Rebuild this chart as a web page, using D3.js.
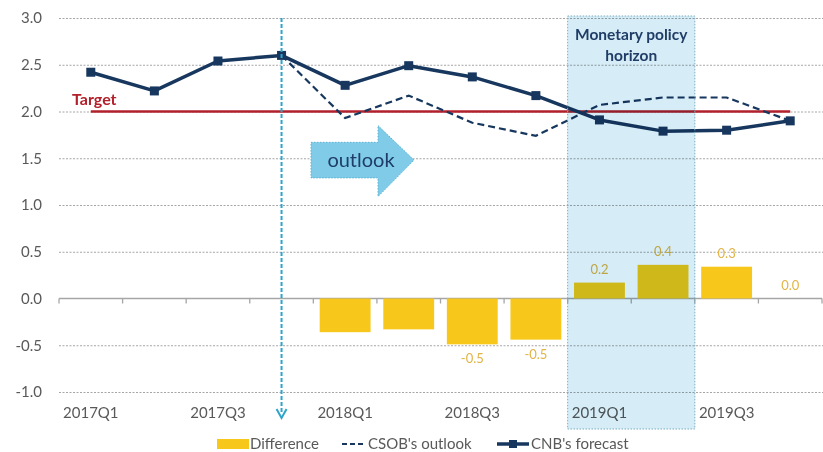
<!DOCTYPE html>
<html>
<head>
<meta charset="utf-8">
<script src="https://cdn.jsdelivr.net/npm/d3@7"></script>
<style>
  html, body { margin: 0; padding: 0; background: #fff; }
  svg { display: block; font-family: Lato, "Open Sans", sans-serif; }
</style>
</head>
<body>
<svg id="chart" width="823" height="452"></svg>
<script>
// ---- data ----
const categories = ["2017Q1","2017Q2","2017Q3","2017Q4","2018Q1","2018Q2","2018Q3","2018Q4","2019Q1","2019Q2","2019Q3","2019Q4"];
const xTickLabels = ["2017Q1","2017Q3","2018Q1","2018Q3","2019Q1","2019Q3"];
const cnbForecast = [2.42, 2.22, 2.54, 2.60, 2.28, 2.49, 2.37, 2.17, 1.91, 1.79, 1.80, 1.90];
const csobOutlook = [null, null, null, 2.60, 1.93, 2.17, 1.88, 1.74, 2.07, 2.15, 2.15, 1.90];
const difference  = [null, null, null, null, -0.36, -0.33, -0.49, -0.44, 0.17, 0.36, 0.34, 0.0];
const diffLabels  = ["", "", "", "", "", "", "-0.5", "-0.5", "0.2", "0.4", "0.3", "0.0"];
const yTicks = [-1.0, -0.5, 0.0, 0.5, 1.0, 1.5, 2.0, 2.5, 3.0];
const targetValue = 2.0;
const outlookStart = "2017Q4";
const horizon = ["2019Q1", "2019Q2"];

// ---- layout ----
const svg = d3.select("#chart");
const pLeft = 59, pRight = 822, pTop = 18, pBottom = 392;
const x = d3.scaleBand().domain(categories).range([pLeft, pRight]).padding(0);
const y = d3.scaleLinear().domain([-1, 3]).range([pBottom, pTop]);
const cx = c => x(c) + x.bandwidth() / 2;

const navy = "#17375E";
const yellow = "#F7C81B";
const fmt = d => d3.format(".1f")(d).replace("\u2212", "-");

// gridlines + y labels
const yAxis = d3.axisLeft(y).tickValues(yTicks).tickFormat(fmt).tickSize(-(823 - pLeft)).tickPadding(17);
const gy = svg.append("g").attr("transform", `translate(${pLeft},0)`).call(yAxis);
gy.select(".domain").remove();
gy.selectAll(".tick line").attr("stroke", "#A6A6A6").attr("stroke-width", 1)
  .attr("stroke-dasharray", d => d === 0 ? null : "2,1.5")
  .attr("opacity", d => d === 0 ? 0 : 1);
gy.selectAll(".tick text").attr("fill", "#595959").style("font-size", "15px").style("font-family", "Lato, sans-serif");

// zero axis with boundary ticks
svg.append("line").attr("x1", pLeft).attr("x2", pRight).attr("y1", y(0)).attr("y2", y(0))
  .attr("stroke", "#A6A6A6").attr("stroke-width", 1.3);
svg.append("g").selectAll("line").data(d3.range(categories.length + 1)).join("line")
  .attr("x1", i => pLeft + i * x.step()).attr("x2", i => pLeft + i * x.step())
  .attr("y1", y(0)).attr("y2", y(0) + 5).attr("stroke", "#A6A6A6").attr("stroke-width", 1.3);

// x labels
const xAxis = d3.axisBottom(x).tickValues(xTickLabels).tickSize(0);
const gx = svg.append("g").attr("transform", `translate(0,${pBottom + 12})`).call(xAxis);
gx.select(".domain").remove();
gx.selectAll(".tick text").attr("fill", "#595959").style("font-size", "15px").style("font-family", "Lato, sans-serif");

// bars
const barW = x.bandwidth() * 0.8;
const barData = categories.map((c, i) => ({ c, v: difference[i], label: diffLabels[i] })).filter(d => d.v !== null);
svg.append("g").selectAll("rect").data(barData).join("rect")
  .attr("x", d => cx(d.c) - barW / 2)
  .attr("width", barW)
  .attr("y", d => y(Math.max(0, d.v)))
  .attr("height", d => Math.abs(y(d.v) - y(0)))
  .attr("fill", yellow);
svg.append("g").selectAll("text").data(barData.filter(d => d.label)).join("text")
  .attr("x", d => cx(d.c))
  .attr("y", d => d.v < 0 ? y(d.v) + 19 : y(d.v) - 9)
  .attr("text-anchor", "middle")
  .attr("fill", "#E2B446").style("font-size", "13px")
  .text(d => d.label);

// target line
svg.append("line").attr("x1", cx(categories[0])).attr("x2", cx(categories[categories.length - 1]))
  .attr("y1", y(targetValue)).attr("y2", y(targetValue))
  .attr("stroke", "#B2202B").attr("stroke-width", 2.5);
svg.append("text").attr("x", 72).attr("y", y(targetValue) - 7)
  .attr("fill", "#B2202B").style("font-size", "16px").style("font-weight", "bold").text("Target");

// CSOB outlook dashed
const line = d3.line().defined(d => d.v !== null).x(d => cx(d.c)).y(d => y(d.v));
svg.append("path").datum(categories.map((c, i) => ({ c, v: csobOutlook[i] })))
  .attr("d", line).attr("fill", "none").attr("stroke", navy).attr("stroke-width", 2.2)
  .attr("stroke-dasharray", "7,4");

// CNB forecast solid
const cnbData = categories.map((c, i) => ({ c, v: cnbForecast[i] }));
svg.append("path").datum(cnbData).attr("d", line).attr("fill", "none")
  .attr("stroke", navy).attr("stroke-width", 3.5).attr("stroke-linejoin", "round");
svg.append("g").selectAll("rect").data(cnbData).join("rect")
  .attr("x", d => cx(d.c) - 4.5).attr("y", d => y(d.v) - 4.5)
  .attr("width", 9).attr("height", 9).attr("fill", navy);

// monetary policy horizon box (multiply overlay)
const hx0 = x(horizon[0]), hx1 = x(horizon[1]) + x.bandwidth();
svg.append("rect").attr("x", hx0).attr("y", pTop - 2).attr("width", hx1 - hx0).attr("height", 429 - (pTop - 2))
  .attr("fill", "#D6ECF6").style("mix-blend-mode", "multiply");
svg.append("rect").attr("x", hx0).attr("y", pTop - 2).attr("width", hx1 - hx0).attr("height", 429 - (pTop - 2))
  .attr("fill", "none").attr("stroke", "#7AAFC2").attr("stroke-width", 1).attr("stroke-dasharray", "1.5,1.5");
const hcx = (hx0 + hx1) / 2;
svg.append("text").attr("x", hcx).attr("y", 40).attr("text-anchor", "middle")
  .attr("fill", "#1F3D66").style("font-size", "15.5px").style("font-weight", "bold").text("Monetary policy");
svg.append("text").attr("x", hcx).attr("y", 61).attr("text-anchor", "middle")
  .attr("fill", "#1F3D66").style("font-size", "15.5px").style("font-weight", "bold").text("horizon");

// vertical dashed line marking forecast start
const vx = cx(outlookStart);
svg.append("line").attr("x1", vx).attr("x2", vx).attr("y1", pTop).attr("y2", 414)
  .attr("stroke", "#2DA4CB").attr("stroke-width", 2).attr("stroke-dasharray", "4,2");
svg.append("path").attr("d", `M${vx - 5},${409} L${vx},${418} L${vx + 5},${409}`)
  .attr("fill", "none").attr("stroke", "#2DA4CB").attr("stroke-width", 2);

// outlook arrow
const ax0 = 311, axH = 378, axT = 414;
const by0 = y(1.67), by1 = y(1.29), hy0 = y(1.85), hy1 = y(1.09), ty = y(1.48);
svg.append("path")
  .attr("d", `M${ax0},${by0} L${axH},${by0} L${axH},${hy0} L${axT},${ty} L${axH},${hy1} L${axH},${by1} L${ax0},${by1} Z`)
  .attr("fill", "#7FCBE8").attr("stroke", "#5DB3D3").attr("stroke-width", 1).attr("stroke-dasharray", "1.5,1.5");
svg.append("text").attr("x", 361).attr("y", ty + 7).attr("text-anchor", "middle")
  .attr("fill", "#1F3D66").style("font-size", "20px").text("outlook");

// legend
const ly = 444;
const lg = svg.append("g").style("font-size", "15px").attr("fill", "#595959");
lg.append("rect").attr("x", 217).attr("y", ly - 5).attr("width", 32).attr("height", 10).attr("fill", yellow);
lg.append("text").attr("x", 250).attr("y", ly + 5).text("Difference");
lg.append("line").attr("x1", 342).attr("x2", 364).attr("y1", ly).attr("y2", ly)
  .attr("stroke", navy).attr("stroke-width", 2.2).attr("stroke-dasharray", "5,3");
lg.append("text").attr("x", 368).attr("y", ly + 5).text("CSOB's outlook");
lg.append("line").attr("x1", 497).attr("x2", 529).attr("y1", ly).attr("y2", ly)
  .attr("stroke", navy).attr("stroke-width", 3.5);
lg.append("rect").attr("x", 509).attr("y", ly - 4).attr("width", 8).attr("height", 8).attr("fill", navy);
lg.append("text").attr("x", 531).attr("y", ly + 5).text("CNB's forecast");
</script>
</body>
</html>
